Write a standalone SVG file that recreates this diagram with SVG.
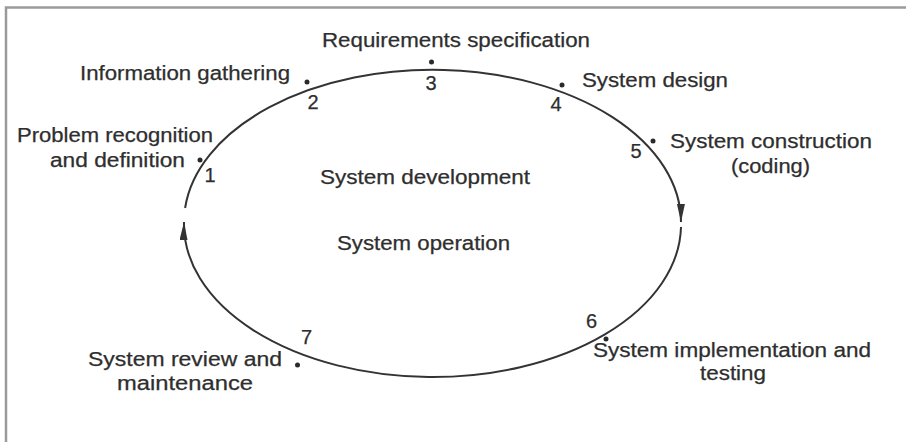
<svg xmlns="http://www.w3.org/2000/svg" width="906" height="442" viewBox="0 0 906 442">
<style>
.lbl{font-family:"Liberation Sans",Arial,sans-serif;font-size:19.5px;fill:#2e2e2e;stroke:#2e2e2e;stroke-width:0.25;}
.num{font-family:"Liberation Sans",Arial,sans-serif;font-size:20px;fill:#2e2e2e;stroke:#2e2e2e;stroke-width:0.25;text-anchor:middle;}
.dot{fill:#2a2a2a;}
.arc{fill:none;stroke:#333;stroke-width:2;}
.frame{stroke:#9a9a9a;stroke-width:2.5;fill:none;}
</style>
<defs>
<marker id="ah" markerUnits="userSpaceOnUse" markerWidth="20" markerHeight="10" refX="18" refY="4" orient="auto">
<path d="M0,0 L18,4 L0,8 Z" fill="#333"/>
</marker>
</defs>
<rect x="0" y="0" width="906" height="442" fill="#fff"/>
<path class="frame" d="M6,442 L6,7.5 L906,7.5"/>
<g id="connectors">
<path class="arc" d="M185.1,208 A248.5,152.5 0 0 1 681,222" marker-end="url(#ah)"/>
<path class="arc" d="M681,227 A248.5,152.5 0 0 1 184,222" marker-end="url(#ah)"/>
</g>
<g id="center-labels">
<text class="lbl" x="320" y="184" textLength="210" lengthAdjust="spacingAndGlyphs">System development</text>
<text class="lbl" x="337" y="250" textLength="173" lengthAdjust="spacingAndGlyphs">System operation</text>
</g>
<g id="node1">
<circle class="dot" cx="200" cy="160" r="2.5"/>
<text class="num" x="210" y="182">1</text>
<text class="lbl" x="17" y="142" textLength="196" lengthAdjust="spacingAndGlyphs">Problem recognition</text>
<text class="lbl" x="50" y="167" textLength="135" lengthAdjust="spacingAndGlyphs">and definition</text>
</g>
<g id="node2">
<circle class="dot" cx="307" cy="82" r="2.5"/>
<text class="num" x="313" y="109">2</text>
<text class="lbl" x="80" y="80" textLength="210" lengthAdjust="spacingAndGlyphs">Information gathering</text>
</g>
<g id="node3">
<circle class="dot" cx="431.5" cy="62" r="2.5"/>
<text class="num" x="431" y="90">3</text>
<text class="lbl" x="322" y="47" textLength="268" lengthAdjust="spacingAndGlyphs">Requirements specification</text>
</g>
<g id="node4">
<circle class="dot" cx="562" cy="85" r="2.5"/>
<text class="num" x="556" y="111">4</text>
<text class="lbl" x="582" y="87" textLength="146" lengthAdjust="spacingAndGlyphs">System design</text>
</g>
<g id="node5">
<circle class="dot" cx="653" cy="141" r="2.5"/>
<text class="num" x="636" y="158">5</text>
<text class="lbl" x="670" y="148" textLength="202" lengthAdjust="spacingAndGlyphs">System construction</text>
<text class="lbl" x="731" y="173" textLength="79" lengthAdjust="spacingAndGlyphs">(coding)</text>
</g>
<g id="node6">
<circle class="dot" cx="606" cy="339" r="2.5"/>
<text class="num" x="591.5" y="328">6</text>
<text class="lbl" x="593" y="357" textLength="278" lengthAdjust="spacingAndGlyphs">System implementation and</text>
<text class="lbl" x="700" y="380" textLength="66" lengthAdjust="spacingAndGlyphs">testing</text>
</g>
<g id="node7">
<circle class="dot" cx="297.5" cy="365" r="2.5"/>
<text class="num" x="306.5" y="344">7</text>
<text class="lbl" x="88" y="366" textLength="194" lengthAdjust="spacingAndGlyphs">System review and</text>
<text class="lbl" x="117" y="390" textLength="136" lengthAdjust="spacingAndGlyphs">maintenance</text>
</g>
</svg>
